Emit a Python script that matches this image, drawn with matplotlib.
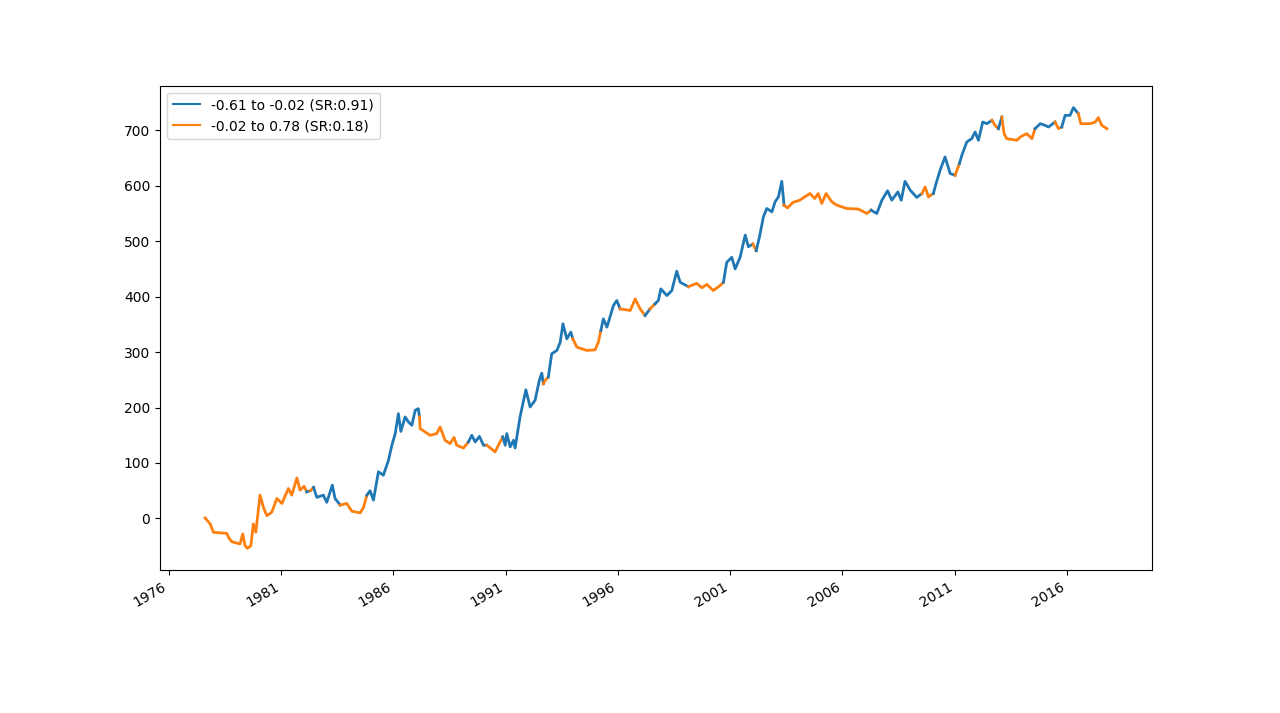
import numpy as np
import pandas as pd
import matplotlib
matplotlib.use("Agg")
import matplotlib.pyplot as plt
import matplotlib.dates as mdates
from matplotlib.lines import Line2D

# cumulative P&L, decimal year -> value
years = [
    1977.61, 1977.84, 1977.98, 1978.58, 1978.65, 1978.80, 1979.17, 1979.29, 1979.39, 1979.50,
    1979.65, 1979.76, 1979.87, 1980.06, 1980.21, 1980.36, 1980.58, 1980.81, 1981.03, 1981.32,
    1981.47, 1981.70, 1981.84, 1982.02, 1982.14, 1982.30, 1982.44, 1982.59, 1982.88, 1983.03,
    1983.28, 1983.40, 1983.63, 1983.92, 1984.15, 1984.52, 1984.67, 1984.82, 1984.96, 1985.11,
    1985.33, 1985.55, 1985.78, 1985.93, 1986.08, 1986.22, 1986.33, 1986.52, 1986.67, 1986.82,
    1986.97, 1987.11, 1987.16, 1987.19, 1987.41, 1987.63, 1987.93, 1988.08, 1988.30, 1988.52,
    1988.70, 1988.82, 1989.12, 1989.34, 1989.49, 1989.64, 1989.83, 1990.01, 1990.16, 1990.53,
    1990.75, 1990.87, 1990.98, 1991.05, 1991.20, 1991.35, 1991.42, 1991.64, 1991.90, 1992.09,
    1992.31, 1992.50, 1992.61, 1992.68, 1992.78, 1992.90, 1993.05, 1993.28, 1993.43, 1993.55,
    1993.72, 1993.90, 1993.99, 1994.17, 1994.61, 1994.98, 1995.13, 1995.24, 1995.35, 1995.51,
    1995.80, 1995.95, 1996.10, 1996.55, 1996.77, 1996.99, 1997.21, 1997.43, 1997.65, 1997.80,
    1997.91, 1998.18, 1998.40, 1998.62, 1998.77, 1999.14, 1999.51, 1999.74, 1999.96, 2000.25,
    2000.55, 2000.70, 2000.85, 2001.07, 2001.22, 2001.44, 2001.67, 2001.81, 2002.01, 2002.16,
    2002.30, 2002.48, 2002.63, 2002.86, 2003.00, 2003.15, 2003.30, 2003.40, 2003.55, 2003.80,
    2004.10, 2004.55, 2004.77, 2004.92, 2005.08, 2005.27, 2005.53, 2005.75, 2006.19, 2006.71,
    2007.09, 2007.28, 2007.53, 2007.76, 2008.01, 2008.20, 2008.47, 2008.62, 2008.79, 2009.02,
    2009.31, 2009.54, 2009.68, 2009.83, 2010.05, 2010.17, 2010.35, 2010.57, 2010.80, 2011.02,
    2011.21, 2011.32, 2011.54, 2011.76, 2011.91, 2012.06, 2012.25, 2012.43, 2012.66, 2012.80,
    2012.95, 2013.10, 2013.20, 2013.32, 2013.77, 2013.92, 2014.21, 2014.44, 2014.58, 2014.81,
    2015.03, 2015.18, 2015.47, 2015.62, 2015.77, 2015.92, 2016.14, 2016.29, 2016.51, 2016.62,
    2017.03, 2017.26, 2017.40, 2017.55, 2017.78,
]
pnl = [
    1, -10, -25, -27, -34, -42, -46, -28, -49, -54,
    -49, -10, -25, 42, 20, 5, 11, 36, 27, 54,
    42, 73, 51, 58, 48, 50, 56, 38, 42, 29,
    60, 36, 24, 27, 13, 10, 20, 42, 50, 33,
    84, 78, 105, 132, 153, 189, 157, 183, 174, 168,
    195, 198, 183, 162, 156, 150, 153, 165, 141, 135,
    146, 132, 127, 138, 150, 138, 148, 132, 132, 120,
    138, 147, 132, 153, 129, 141, 127, 183, 232, 201,
    213, 249, 262, 243, 250, 255, 297, 303, 318, 351,
    324, 336, 324, 309, 303, 304, 318, 339, 360, 345,
    384, 393, 378, 375, 396, 378, 366, 378, 387, 393,
    414, 402, 411, 446, 426, 418, 424, 416, 422, 411,
    420, 426, 462, 471, 450, 471, 511, 490, 495, 483,
    507, 544, 559, 553, 571, 580, 608, 565, 560, 570,
    574, 586, 577, 586, 568, 586, 571, 565, 559, 558,
    550, 556, 550, 574, 591, 574, 589, 574, 608, 592,
    579, 586, 598, 580, 586, 604, 628, 652, 622, 619,
    640, 655, 679, 685, 697, 682, 715, 712, 718, 709,
    703, 724, 694, 685, 682, 688, 694, 685, 703, 712,
    709, 706, 715, 703, 706, 727, 727, 741, 730, 712,
    712, 715, 723, 709, 703,
]
# regime of the segment ending at each point (b = first bucket, o = second)
regime = (
    "oooooooooo"
    "oooooooooo"
    "ooooobobbb"
    "bbbooooobb"
    "bbbbbbbbbb"
    "bbbooooooo"
    "oooobbbbbo"
    "oobbbbbbbb"
    "bbbboobbbb"
    "bbbooooobb"
    "bbboooobob"
    "bbbbbboooo"
    "oobbbbbbbo"
    "bbbbbbbboo"
    "oooooooooo"
    "oobbbbbbbb"
    "bbooobbbbb"
    "obbbbbbbbo"
    "obooooooob"
    "bbboobbbbo"
    "ooooo"
)
tick_years = [1976, 1981, 1986, 1991, 1996, 2001, 2006, 2011, 2016]
labels = {"b": "-0.61 to -0.02 (SR:0.91)", "o": "-0.02 to 0.78 (SR:0.18)"}
colors = {"b": "#1f77b4", "o": "#ff7f0e"}


def to_date(y):
    yr = int(y)
    return pd.Timestamp(yr, 1, 1) + pd.Timedelta(days=(y - yr) * 365.25)


dates = pd.to_datetime([to_date(y) for y in years])
vals = np.array(pnl, dtype=float)

fig, ax = plt.subplots(figsize=(12.8, 7.13), dpi=100)

# one line per run of the same regime, joined to the previous point
i = 0
n = len(vals)
while i < n:
    j = i
    while j + 1 < n and regime[j + 1] == regime[i]:
        j += 1
    s = max(i - 1, 0)
    ax.plot(dates[s:j + 1], vals[s:j + 1], color=colors[regime[i]], linewidth=2.0)
    i = j + 1

ax.set_xticks(pd.to_datetime([f"{y}-01-01" for y in tick_years]))
ax.xaxis.set_major_formatter(mdates.DateFormatter("%Y"))

proxies = [Line2D([], [], color=colors[k], linewidth=1.5) for k in ("b", "o")]
ax.legend(proxies, [labels["b"], labels["o"]], loc="upper left")
fig.autofmt_xdate()

plt.savefig("out.png", dpi=100)
